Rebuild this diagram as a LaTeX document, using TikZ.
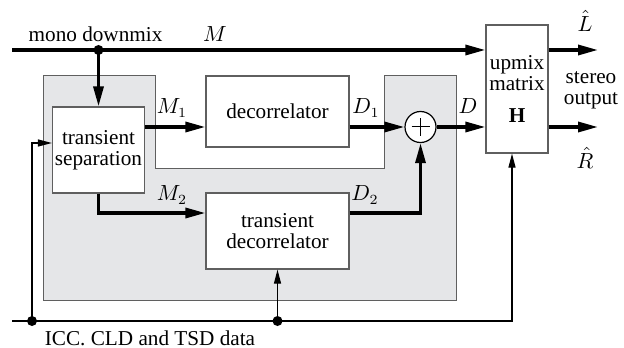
\documentclass[tikz,border=0pt]{standalone}
\usepackage{fontspec}
\setmainfont{Liberation Serif}
\usetikzlibrary{arrows.meta, calc}
\definecolor{panel}{RGB}{229,230,232}
\definecolor{edge}{RGB}{95,95,95}
\tikzset{
  block/.style={draw=edge, line width=0.6pt, fill=white, align=center, inner sep=1pt},
  sig/.style={line width=1.6pt, -{Triangle[length=10pt,width=5pt]}},
  ctl/.style={line width=0.6pt, -{Triangle[length=7pt,width=3.5pt]}},
  dot/.style={circle, fill, inner sep=0pt, minimum size=5pt},
  lbl/.style={inner sep=1pt},
  adder/.style={circle, draw, line width=0.6pt, fill=white, minimum size=15.5pt, inner sep=0pt,
    path picture={\draw[line width=0.5pt] ([xshift=-4.5pt]path picture bounding box.center) -- ++(9pt,0pt)
      ([yshift=-4.5pt]path picture bounding box.center) -- ++(0pt,9pt);}},
}

\begin{document}
\begin{tikzpicture}[x=0.5pt, y=-0.5pt, font=\fontsize{10.6}{10.4}\selectfont]
    \useasboundingbox (0,0) rectangle (624,347);
    % grauer Bereich
    \draw[edge, fill=panel, line width=0.5pt] (43,76) -- (155,76) -- (155,168) -- (384,168)
        -- (384,76) -- (456,76) -- (456,300) -- (43,300) -- cycle;
    % Bloecke
    \node[block, minimum width=46pt, minimum height=43pt] (tsep) at (98.5,150) {transient\\separation};
    \node[block, minimum width=71.5pt, minimum height=35.5pt] (deco) at (277.5,111.5) {decorrelator};
    \node[block, minimum width=71.5pt, minimum height=38pt] (tdec) at (277.5,231) {transient\\decorrelator};
    \node[adder] (sum) at (420.5,127) {};
    \node[block, minimum width=31pt, minimum height=64pt] (up) at (517,89) {upmix\\matrix\\[6pt]\textbf{H}};
    % Hilfspunkte
    \coordinate (src) at (12,50);
    \coordinate (split) at (98.5,50);
    \coordinate (lane) at (0,213);
    \coordinate (lout) at (598,50);
    \coordinate (rout) at (598,127);
    \coordinate (cin) at (12,321);
    \coordinate (cend) at (512,321);
    \coordinate (c1) at (32,321);
    \coordinate (c2) at (277.5,321);
    % Signalpfade
    \draw[sig] (src) -- (up.west |- src);
    \draw[sig] (split) -- (tsep.north);
    \draw[sig] (tsep.east |- sum) -- (deco.west |- sum);
    \draw[sig] (deco.east |- sum) -- (sum.west);
    \draw[sig] (sum.east) -- (up.west |- sum);
    \draw[sig] (tsep.south) |- (tdec.west |- lane);
    \draw[sig] (tdec.east |- lane) -| (sum.south);
    \draw[sig] (up.east |- lout) -- (lout);
    \draw[sig] (up.east |- rout) -- (rout);
    % Steuerdaten
    \draw[ctl] (cin) -| (cend |- up.south);
    \draw[ctl] (c1) |- ([yshift=3.5pt]tsep.west);
    \draw[ctl] (c2) -- (tdec.south);
    \node[dot] (d0) at (split) {};
    \node[dot] (d1) at (c1) {};
    \node[dot] (d2) at (c2) {};
    % Beschriftungen
    \node[lbl] (mono) at (95.5,34) {mono downmix};
    \node[lbl] (lm) at (215,34) {$M$};
    \node[lbl] (lm1) at (172,108) {$M_1$};
    \node[lbl] (lm2) at (172,195) {$M_2$};
    \node[lbl] (ld1) at (366,108) {$D_1$};
    \node[lbl] (ld2) at (365,195) {$D_2$};
    \node[lbl] (ld) at (468,106) {$D$};
    \node[lbl] (lhat) at (585,21) {$\hat{L}$};
    \node[lbl] (rhat) at (585,158) {$\hat{R}$};
    \node[lbl, align=center] (stereo) at (591,90) {stereo\\output};
    \node[lbl] (data) at (150,338) {ICC. CLD and TSD data};
\end{tikzpicture}
\end{document}
